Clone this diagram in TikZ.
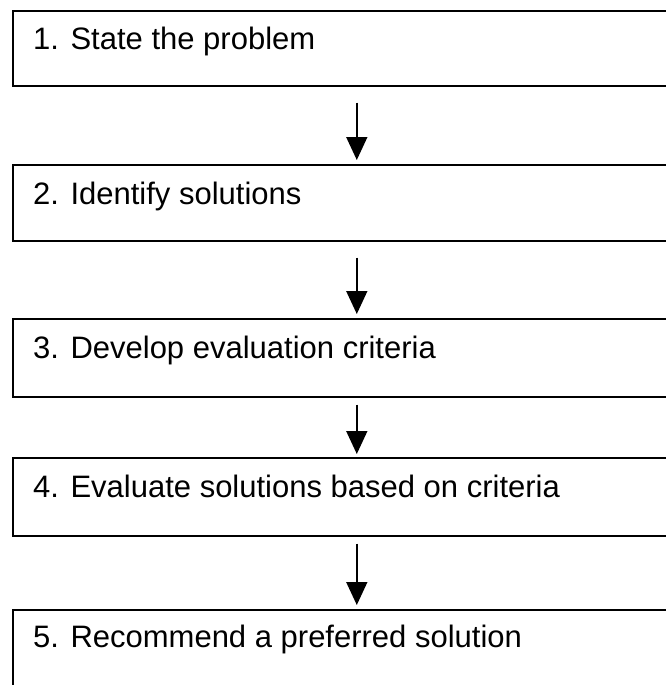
\documentclass[tikz,border=0pt]{standalone}
\usepackage{fontspec}
\setmainfont{Liberation Sans}
\usetikzlibrary{arrows.meta}
\begin{document}
\begin{tikzpicture}[x=1pt,y=-1pt,
  stepbox/.style={draw=black, line width=1.6pt, minimum width=688pt, anchor=north west, inner sep=0pt},
  lbl/.style={anchor=base west, inner sep=0pt, font=\fontsize{31pt}{36pt}\selectfont},
  arr/.style={line width=1.6pt, -{Triangle[width=21pt,length=23pt]}}]
\useasboundingbox (0,0) rectangle (666,685);
\fill[white] (0,0) rectangle (666,685);
\node[stepbox, minimum height=75pt] (b1) at (12,10) {};
\node[stepbox, minimum height=76pt] (b2) at (12,164) {};
\node[stepbox, minimum height=78pt] (b3) at (12,318) {};
\node[stepbox, minimum height=78pt] (b4) at (12,457) {};
\node[stepbox, minimum height=120pt] (b5) at (12,609) {};
\node[lbl] (t1) at (33,50) {1. State the problem};
\node[lbl] (t2) at (33,204) {2. Identify solutions};
\node[lbl] (t3) at (33,358) {3. Develop evaluation criteria};
\node[lbl] (t4) at (33,497) {4. Evaluate solutions based on criteria};
\node[lbl] (t5) at (33,647) {5. Recommend a preferred solution};
\draw[arr] ([yshift=-16pt]b1.south) -- ([yshift=4pt]b2.north);
\draw[arr] ([yshift=-16pt]b2.south) -- ([yshift=4pt]b3.north);
\draw[arr] ([yshift=-7pt]b3.south) -- ([yshift=3pt]b4.north);
\draw[arr] ([yshift=-7pt]b4.south) -- ([yshift=4pt]b5.north);
\end{tikzpicture}
\end{document}
